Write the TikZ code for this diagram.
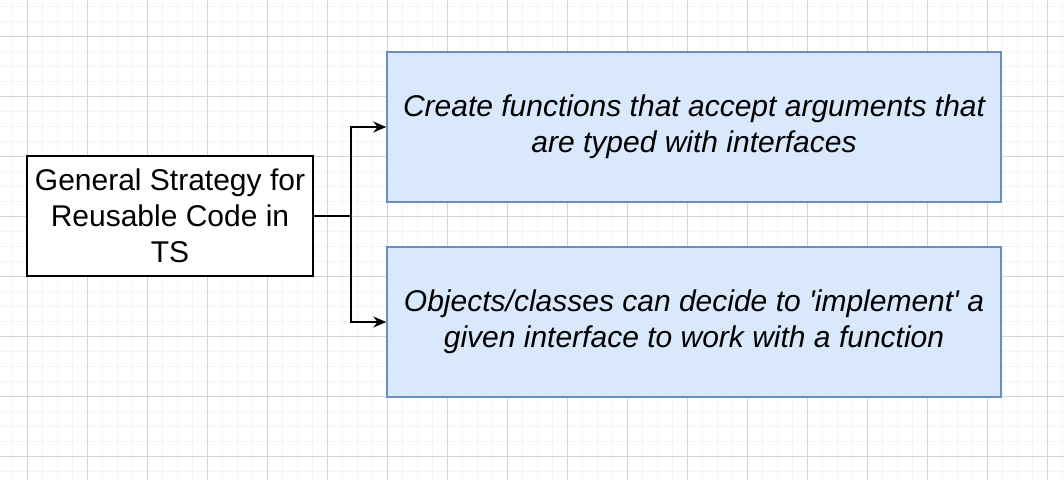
\documentclass[tikz,border=0pt]{standalone}
\usepackage{fontspec}
\setmainfont{Liberation Sans}
\definecolor{gridminor}{RGB}{244,244,244}
\definecolor{gridmajor}{RGB}{212,212,212}
\definecolor{boxblue}{RGB}{218,232,252}
\definecolor{boxedge}{RGB}{108,142,191}
\usetikzlibrary{arrows.meta,positioning}

\begin{document}
\begin{tikzpicture}[x=1pt,y=-1pt,
    strategy/.style={draw=black,line width=1.5pt,minimum width=286pt,minimum height=120pt,
      inner sep=0pt,align=center,font=\fontsize{30}{36}\selectfont},
    idea/.style={draw=boxedge,fill=boxblue,line width=1.5pt,minimum width=614pt,minimum height=150pt,
      inner sep=0pt,align=center,font=\fontsize{30}{36}\selectfont\itshape},
    link/.style={line width=1.5pt,-{Stealth[length=13pt,width=11pt]}}]
  % Background grid
  \useasboundingbox (0,0) rectangle (1064,480);
  \fill[white] (0,0) rectangle (1064,480);
  \foreach \x in {12,27,...,1064} \draw[gridminor,line width=1pt] (\x,0) -- (\x,480);
  \foreach \y in {6,21,...,480} \draw[gridminor,line width=1pt] (0,\y) -- (1064,\y);
  \foreach \x in {27,87,...,1064} \draw[gridmajor,line width=1pt] (\x,0) -- (\x,480);
  \foreach \y in {36,96,...,480} \draw[gridmajor,line width=1pt] (0,\y) -- (1064,\y);
  % Boxes
  \node[strategy,fill=white] (strat) at (170,216) {General Strategy for\\Reusable Code in\\TS};
  \node[idea] (create) at (694,127) {Create functions that accept arguments that\\are typed with interfaces};
  \node[idea] (objects) at (694,322) {Objects/classes can decide to \textquotesingle implement\textquotesingle\ a\\given interface to work with a function};
  % Connectors
  \draw[line width=1.5pt] (strat.east) -- ++(37,0) coordinate (split);
  \draw[link] (split) |- (create.west);
  \draw[link] (split) |- (objects.west);
\end{tikzpicture}
\end{document}
